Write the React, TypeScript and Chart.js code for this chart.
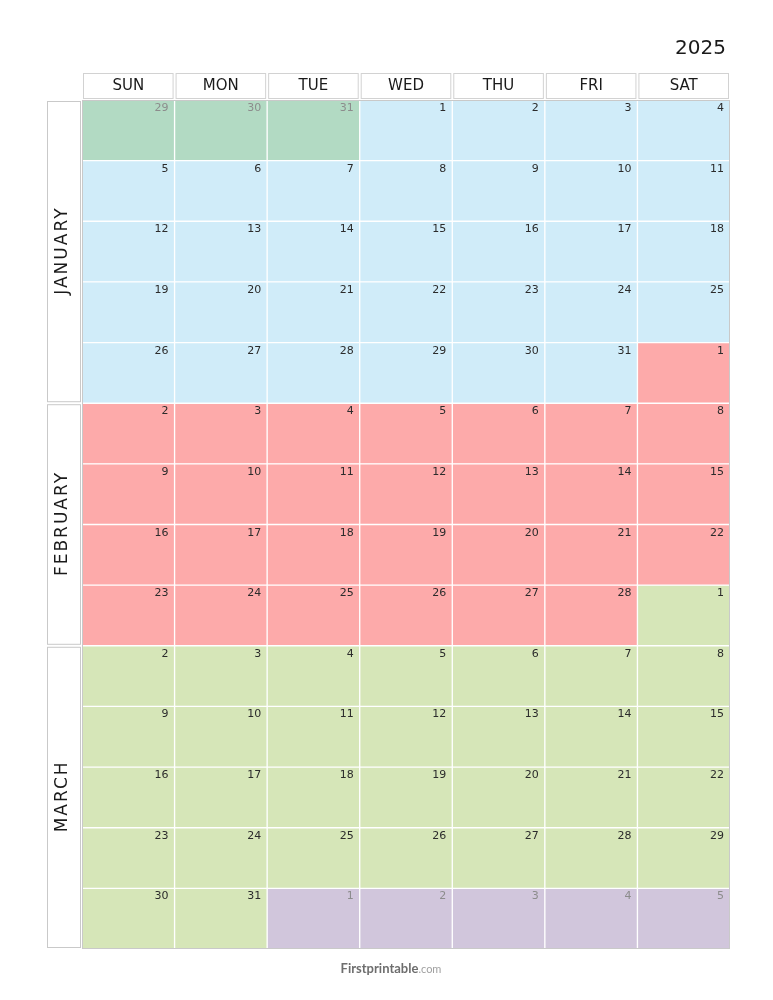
import React, { useEffect, useRef } from "react";
import { Chart, registerables } from "chart.js";

Chart.register(...registerables);

const YEAR = "2025";
const WEEKDAYS = ["SUN", "MON", "TUE", "WED", "THU", "FRI", "SAT"];
const MONTHS = ["JANUARY", "FEBRUARY", "MARCH"];
const MONTH_ROW_SPANS = [
  [0, 5],
  [5, 9],
  [9, 14],
];
const DAY_ROWS = [
  [29, 30, 31, 1, 2, 3, 4],
  [5, 6, 7, 8, 9, 10, 11],
  [12, 13, 14, 15, 16, 17, 18],
  [19, 20, 21, 22, 23, 24, 25],
  [26, 27, 28, 29, 30, 31, 1],
  [2, 3, 4, 5, 6, 7, 8],
  [9, 10, 11, 12, 13, 14, 15],
  [16, 17, 18, 19, 20, 21, 22],
  [23, 24, 25, 26, 27, 28, 1],
  [2, 3, 4, 5, 6, 7, 8],
  [9, 10, 11, 12, 13, 14, 15],
  [16, 17, 18, 19, 20, 21, 22],
  [23, 24, 25, 26, 27, 28, 29],
  [30, 31, 1, 2, 3, 4, 5],
];
const PERIOD_ROWS = [
  "DDDJJJJ",
  "JJJJJJJ",
  "JJJJJJJ",
  "JJJJJJJ",
  "JJJJJJF",
  "FFFFFFF",
  "FFFFFFF",
  "FFFFFFF",
  "FFFFFFM",
  "MMMMMMM",
  "MMMMMMM",
  "MMMMMMM",
  "MMMMMMM",
  "MMAAAAA",
];
const PERIOD_KEYS = ["D", "J", "F", "M", "A"];
const PERIOD_NAMES = ["December 2024", "January", "February", "March", "April"];
const PERIOD_COLORS = ["#b2dac3", "#d0ecf9", "#fdaaaa", "#d6e6b8", "#d1c6dc"];
const PERIOD_IN_MONTH = [false, true, true, true, false];
const FOOTER_BRAND = "Firstprintable";
const FOOTER_TLD = ".com";

const FONT = "'DejaVu Sans', 'Noto Sans', sans-serif";
const FOOTER_FONT = "Lato, 'Open Sans', sans-serif";

const calendarPlugin = {
  id: "calendarDecor",
  afterDatasetsDraw(chart: any) {
    const { ctx, chartArea, scales } = chart;
    const x = scales.x;
    const y = scales.y;
    const colW = (chartArea.right - chartArea.left) / WEEKDAYS.length;
    ctx.save();

    // outer grid border
    ctx.strokeStyle = "#c9c9c9";
    ctx.lineWidth = 1;
    ctx.strokeRect(chartArea.left + 0.5, chartArea.top + 0.5, chartArea.right - chartArea.left - 1, chartArea.bottom - chartArea.top - 1);

    // day numbers
    ctx.font = `11px ${FONT}`;
    ctx.textAlign = "right";
    ctx.textBaseline = "alphabetic";
    DAY_ROWS.forEach((row, r) => {
      row.forEach((d, c) => {
        const pIdx = PERIOD_KEYS.indexOf(PERIOD_ROWS[r][c]);
        ctx.fillStyle = PERIOD_IN_MONTH[pIdx] ? "#2b2b2b" : "#8c8c8c";
        const right = x.getPixelForValue(c) + colW / 2 - 6;
        const top = y.getPixelForValue(r);
        ctx.fillText(String(d), right, top + 11);
      });
    });

    // header boxes
    WEEKDAYS.forEach((w, c) => {
      const cx = x.getPixelForValue(c);
      const l = cx - colW / 2 + 1;
      const rr = cx + colW / 2 - 1;
      ctx.fillStyle = "#ffffff";
      ctx.fillRect(l, 73, rr - l, 26);
      ctx.strokeStyle = "#d2d2d2";
      ctx.strokeRect(l + 0.5, 73.5, rr - l - 1, 25);
      ctx.fillStyle = "#1a1a1a";
      ctx.font = `15px ${FONT}`;
      ctx.textAlign = "center";
      ctx.textBaseline = "middle";
      ctx.fillText(w, cx, 86.5);
    });

    // month label boxes
    MONTHS.forEach((m, i) => {
      const [a, b] = MONTH_ROW_SPANS[i];
      const t = y.getPixelForValue(a) + 1;
      const btm = y.getPixelForValue(b) - 1;
      ctx.fillStyle = "#ffffff";
      ctx.fillRect(47, t, 33, btm - t);
      ctx.strokeStyle = "#c9c9c9";
      ctx.strokeRect(47.5, t + 0.5, 33, btm - t - 1);
      ctx.save();
      ctx.translate(63, (t + btm) / 2);
      ctx.rotate(-Math.PI / 2);
      ctx.fillStyle = "#1a1a1a";
      ctx.font = `17px ${FONT}`;
      (ctx as any).letterSpacing = "2px";
      ctx.textAlign = "center";
      ctx.textBaseline = "middle";
      ctx.fillText(m, 1, 0);
      (ctx as any).letterSpacing = "0px";
      ctx.restore();
    });

    // year
    ctx.fillStyle = "#1a1a1a";
    ctx.font = `20px ${FONT}`;
    ctx.textAlign = "right";
    ctx.textBaseline = "alphabetic";
    ctx.fillText(YEAR, 726, 54);

    // footer
    ctx.font = `bold 13px ${FOOTER_FONT}`;
    const w1 = ctx.measureText(FOOTER_BRAND).width;
    ctx.font = `11px ${FOOTER_FONT}`;
    const w2 = ctx.measureText(FOOTER_TLD).width;
    const start = 391 - (w1 + w2) / 2;
    ctx.textAlign = "left";
    ctx.fillStyle = "#6e6e6e";
    ctx.font = `bold 13px ${FOOTER_FONT}`;
    ctx.fillText(FOOTER_BRAND, start, 973);
    ctx.fillStyle = "#a0a0a0";
    ctx.font = `11px ${FOOTER_FONT}`;
    ctx.fillText(FOOTER_TLD, start + w1, 973);

    ctx.restore();
  },
};

export default function App() {
  const ref = useRef<HTMLCanvasElement>(null);
  useEffect(() => {
    if (!ref.current) return;
    const datasets = PERIOD_KEYS.map((key, pIdx) => {
      const data: any[] = [];
      PERIOD_ROWS.forEach((row, r) => {
        row.split("").forEach((k, c) => {
          if (k === key) data.push({ x: WEEKDAYS[c], y: [r, r + 1] });
        });
      });
      return {
        label: PERIOD_NAMES[pIdx],
        data,
        backgroundColor: PERIOD_COLORS[pIdx],
        borderColor: "#ffffff",
        borderWidth: 1,
        borderSkipped: false,
        grouped: false,
        barPercentage: 1,
        categoryPercentage: 1,
      };
    });
    const chart = new Chart(ref.current, {
      type: "bar",
      data: { labels: WEEKDAYS, datasets },
      options: {
        animation: false,
        responsive: false,
        devicePixelRatio: 1,
        layout: { padding: { left: 82, right: 43, top: 100, bottom: 51 } },
        plugins: { legend: { display: false }, tooltip: { enabled: false } },
        scales: {
          x: { type: "category", display: false, offset: true, grid: { display: false } },
          y: { type: "linear", display: false, min: 0, max: 14, reverse: true, grid: { display: false } },
        },
      },
      plugins: [calendarPlugin],
    });
    return () => chart.destroy();
  }, []);
  return (
    <div style={{ position: "fixed", left: 0, top: 0, width: 773, height: 1000, background: "#fff" }}>
      <canvas ref={ref} width={773} height={1000} style={{ display: "block", width: 773, height: 1000 }} />
    </div>
  );
}
